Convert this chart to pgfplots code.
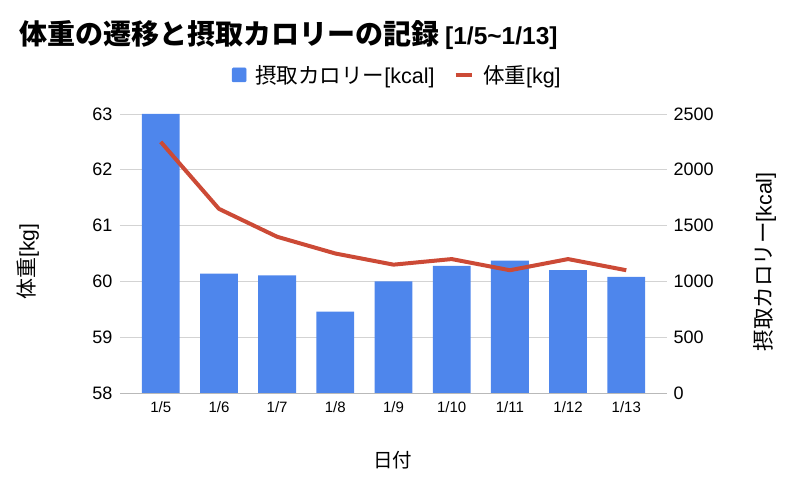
\documentclass[border=0pt]{standalone}
\usepackage{fontspec}
\setmainfont{Liberation Sans}
\newfontfamily\cjk{Noto Sans CJK JP}
\usepackage{pgfplots}
\pgfplotsset{compat=1.18}
\definecolor{barblue}{HTML}{4E86EC}
\definecolor{linered}{HTML}{CC4A36}
\definecolor{gridgray}{HTML}{D3D3D3}
\begin{document}
\begin{tikzpicture}[x=1pt,y=1pt]
\useasboundingbox (0,0) rectangle (800,486);
\node[anchor=west,inner sep=0pt] at (19,451) {{\cjk\fontsize{28}{30}\selectfont\bfseries 体重の遷移と摂取カロリーの記録}\hspace{6pt}{\fontsize{24.5}{28}\selectfont\bfseries [1/5\textasciitilde 1/13]}};
\begin{axis}[
  at={(120pt,93pt)}, anchor=south west,
  width=547pt, height=279pt, scale only axis,
  xmin=-0.7, xmax=8.7, ymin=0, ymax=2500,
  axis y line*=right, axis x line*=bottom,
  x axis line style={draw=gray!55, line width=0.8pt},
  y axis line style={draw=none},
  ytick={0,500,...,2500},
  ymajorgrids, grid style={gridgray, line width=0.8pt},
  xtick={0,...,8},
  xticklabels={1/5,1/6,1/7,1/8,1/9,1/10,1/11,1/12,1/13},
  major tick length=0pt,
  /pgf/number format/assume math mode=true,
  /pgf/number format/1000 sep={},
  yticklabel style={font=\fontsize{18}{20}\selectfont, xshift=3pt},
  xticklabel style={font=\fontsize{15}{17}\selectfont, yshift=-5pt},
  ylabel={{\cjk 摂取カロリー}[kcal]},
  ylabel style={at={(axis description cs:1.179,0.47)}, anchor=center, font=\fontsize{21.5}{23}\selectfont},
  xlabel={\cjk 日付},
  xlabel style={at={(axis description cs:0.499,-0.24)}, anchor=center, font=\fontsize{19.5}{21}\selectfont},
]
\addplot[ybar, bar width=0.65, fill=barblue, draw=none] coordinates {
(0,2500) (1,1070) (2,1055) (3,730) (4,1000) (5,1140) (6,1185) (7,1100) (8,1040)};
\end{axis}
\begin{axis}[
  at={(120pt,93pt)}, anchor=south west,
  width=547pt, height=279pt, scale only axis,
  xmin=-0.7, xmax=8.7, ymin=58, ymax=63,
  axis y line*=left, hide x axis,
  y axis line style={draw=none},
  ytick={58,...,63},
  major tick length=0pt,
  /pgf/number format/assume math mode=true,
  yticklabel style={font=\fontsize{18}{20}\selectfont, xshift=-4pt},
  ylabel={{\cjk 体重}[kg]},
  ylabel style={at={(axis description cs:-0.168,0.47)}, anchor=center, font=\fontsize{21}{23}\selectfont},
  legend style={at={(axis description cs:0.507,1.14)}, anchor=center, draw=none, fill=none,
    font=\fontsize{21.5}{23}\selectfont, legend columns=2,
    /tikz/every odd column/.append style={column sep=7pt},
    /tikz/every even column/.append style={column sep=17pt}},
]
\addlegendimage{legend image code/.code={\fill[barblue, rounded corners=1pt] (0pt,-7pt) rectangle (14pt,7pt);}}
\addlegendentry{{\cjk 摂取カロリー}[kcal]}
\addplot[linered, line width=4pt, line join=round,
  legend image code/.code={\draw[linered, line width=4pt] (0pt,0pt) -- (16.5pt,0pt);}]
  coordinates {(0,62.5) (1,61.3) (2,60.8) (3,60.5) (4,60.3) (5,60.4) (6,60.2) (7,60.4) (8,60.2)};
\addlegendentry{{\cjk 体重}[kg]}
\end{axis}
\end{tikzpicture}
\end{document}
